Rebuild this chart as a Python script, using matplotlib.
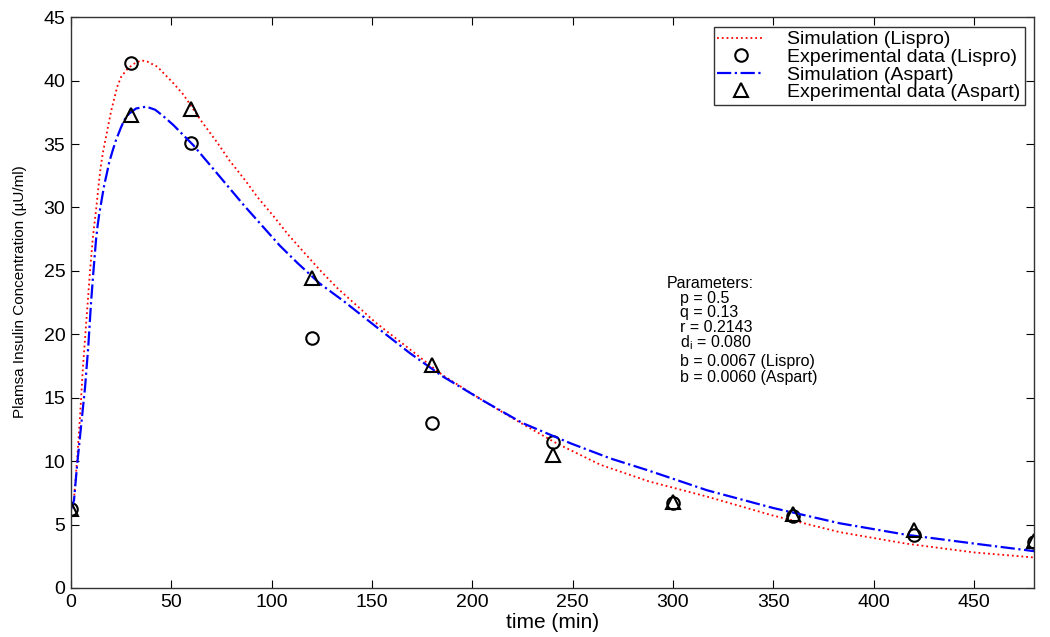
import matplotlib.pyplot as plt

plt.rcParams["font.family"] = ["Liberation Sans", "DejaVu Sans"]

# simulated curves
t_lispro_sim = [0, 1.5, 3, 4.5, 6, 8, 9.5, 11, 12.5, 14, 15, 16, 17.5, 19, 20, 21.6,
                23, 25, 28, 31, 35, 38, 43, 51, 56, 65, 72.5, 79, 87, 93, 101, 108,
                117, 125, 133, 152, 169, 185, 205, 222, 242, 264, 288, 317, 350, 383,
                416, 450, 480]
c_lispro_sim = [6.2, 7.0, 10.0, 13.5, 17.5, 21.8, 25.0, 27.8, 29.8, 32.1, 33.4, 34.4,
                35.6, 36.8, 37.6, 38.6, 39.5, 40.3, 40.9, 41.3, 41.6, 41.5, 41.1, 39.8,
                38.9, 36.8, 35.2, 33.7, 32.1, 30.8, 29.3, 27.9, 26.3, 24.9, 23.6, 20.9,
                18.8, 16.8, 14.8, 13.2, 11.4, 9.7, 8.4, 7.2, 5.7, 4.4, 3.5, 2.8, 2.4]

t_aspart_sim = [0, 1.5, 3, 4.8, 7, 8.6, 10, 11.1, 12.5, 13.3, 14.1, 15.4, 16.6, 17.9,
                19.1, 20.8, 22.4, 24.9, 26.6, 29, 32.4, 37.5, 42, 46, 51, 61, 69, 77.5,
                86, 95, 104, 113, 124, 136, 152, 169, 185, 205, 225, 249, 269, 287,
                317, 350, 383, 416, 450, 480]
c_aspart_sim = [6.2, 6.9, 9.6, 12.4, 15.8, 19.0, 22.5, 24.8, 27.5, 28.6, 29.5, 30.7,
                31.8, 32.7, 33.6, 34.5, 35.3, 36.3, 36.9, 37.4, 37.8, 37.95, 37.7,
                37.2, 36.5, 34.9, 33.4, 31.8, 30.2, 28.6, 27.0, 25.6, 24.0, 22.6, 20.6,
                18.5, 16.7, 14.8, 13.0, 11.4, 10.2, 9.3, 7.7, 6.3, 5.1, 4.2, 3.5, 2.9]

# experimental data
t_exp = [0, 30, 60, 120, 180, 240, 300, 360, 420, 480]
c_lispro_exp = [6.2, 41.4, 35.1, 19.7, 13.0, 11.5, 6.7, 5.7, 4.2, 3.6]
c_aspart_exp = [6.2, 37.3, 37.8, 24.4, 17.6, 10.5, 6.8, 5.8, 4.6, 3.7]

param_lines = ["p = 0.5", "q = 0.13", "r = 0.2143", "d$_\\mathregular{i}$ = 0.080",
               "b = 0.0067 (Lispro)", "b = 0.0060 (Aspart)"]
param_rows = [0.508, 0.482, 0.456, 0.430, 0.397, 0.369]

fig = plt.figure(figsize=(10.5, 6.37), dpi=100)
ax = fig.add_axes([0.0676, 0.077, 0.9174, 0.896])

ax.plot(t_lispro_sim, c_lispro_sim, color="red", linestyle=":", linewidth=1.3,
        label="Simulation (Lispro)")
ax.plot(t_exp, c_lispro_exp, linestyle="none", marker="o", markersize=9,
        markerfacecolor="none", markeredgecolor="black", markeredgewidth=1.5,
        label="Experimental data (Lispro)")
ax.plot(t_aspart_sim, c_aspart_sim, color="blue", linestyle="-.", linewidth=1.6,
        label="Simulation (Aspart)")
ax.plot(t_exp, c_aspart_exp, linestyle="none", marker="^", markersize=10,
        markerfacecolor="none", markeredgecolor="black", markeredgewidth=1.5,
        label="Experimental data (Aspart)")

ax.set_xlim(0, 480)
ax.set_ylim(0, 45)
ax.set_xticks(range(0, 451, 50))
ax.set_yticks(range(0, 46, 5))
ax.tick_params(direction="in", length=6, top=True, right=True, labelsize=14, pad=4)
for spine in ax.spines.values():
    spine.set_linewidth(1.0)
    spine.set_color("#333333")

ax.set_xlabel("time (min)", fontsize=15, labelpad=2)
ax.set_ylabel("Plamsa Insulin Concentration (\u00b5U/ml)", fontsize=11)
ax.yaxis.set_label_coords(-0.046, 0.52)

ax.legend(loc="upper right", fontsize=14, frameon=True, fancybox=False,
          edgecolor="#333333", framealpha=1, borderpad=0.2, labelspacing=0.0,
          handlelength=2.4, handletextpad=1.2, borderaxespad=0.5)

ax.text(0.619, 0.534, "Parameters:", transform=ax.transAxes, fontsize=11.5,
        va="center", ha="left")
for row, line in zip(param_rows, param_lines):
    ax.text(0.632, row, line, transform=ax.transAxes, fontsize=11.5,
            va="center", ha="left")

fig.savefig("out.png", dpi=100)
